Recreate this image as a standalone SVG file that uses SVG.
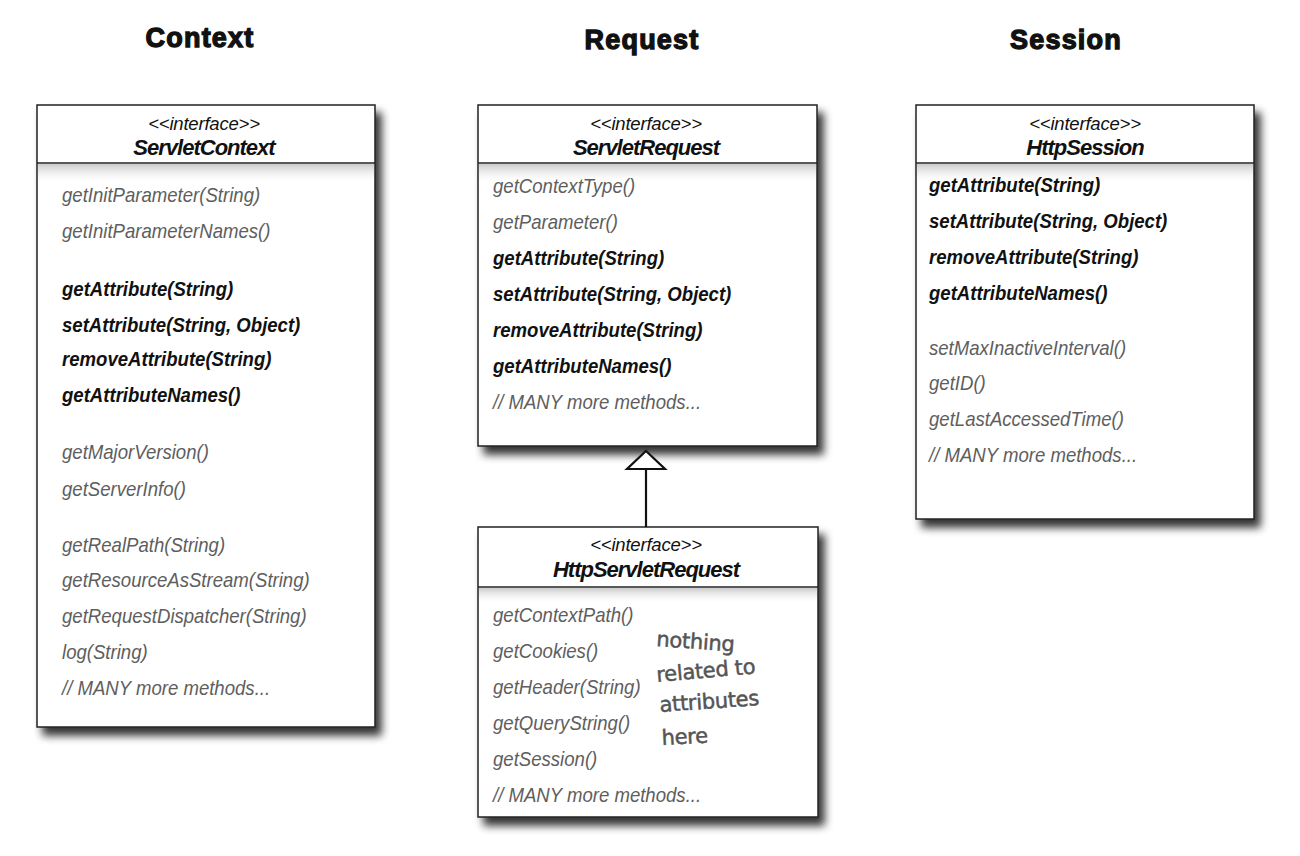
<svg xmlns="http://www.w3.org/2000/svg" width="1300" height="856" viewBox="0 0 1300 856">
  <defs>
    <filter id="drop" x="-10%" y="-10%" width="130%" height="130%">
      <feGaussianBlur in="SourceAlpha" stdDeviation="4.5"/>
      <feOffset dx="6" dy="8" result="b"/>
      <feComponentTransfer><feFuncA type="linear" slope="0.8"/></feComponentTransfer>
      <feMerge><feMergeNode/><feMergeNode in="SourceGraphic"/></feMerge>
    </filter>
    <linearGradient id="hdrShade" x1="0" y1="0" x2="0" y2="1">
      <stop offset="0" stop-color="#c4c4c4" stop-opacity="0.9"/>
      <stop offset="1" stop-color="#ffffff" stop-opacity="0"/>
    </linearGradient>
  </defs>
  <style>
    .title { font-family: "Liberation Sans", Arial, sans-serif; font-weight: bold; font-size: 27px; fill: #111; stroke: #111; stroke-width: 1.3; letter-spacing: 1.2px; text-anchor: middle; }
    .box { fill: #fff; stroke: #222; stroke-width: 1.5; }
    .rule { stroke: #222; stroke-width: 1.5; }
    .stereo { font-family: "Liberation Sans", Arial, sans-serif; font-style: italic; font-size: 18.5px; fill: #111; text-anchor: middle; letter-spacing: -0.2px; }
    .cname { font-family: "Liberation Sans", Arial, sans-serif; font-style: italic; font-weight: bold; font-size: 22px; fill: #111; text-anchor: middle; letter-spacing: -1px; }
    /* method lists are set in a condensed face: the groups are squeezed horizontally */
    .m { font-family: "Liberation Sans", Arial, sans-serif; font-style: italic; font-size: 21px; fill: #5e5e5e; }
    .mb { font-family: "Liberation Sans", Arial, sans-serif; font-style: italic; font-weight: bold; font-size: 21px; fill: #111; }
    .note { font-family: "DejaVu Sans", sans-serif; font-size: 21px; fill: #555; stroke: #555; stroke-width: 0.5; letter-spacing: -0.3px; }
    .link { stroke: #111; stroke-width: 2.2; fill: none; }
    .head { fill: #fff; stroke: #111; stroke-width: 2.2; stroke-linejoin: miter; }
  </style>

  <rect width="1300" height="856" fill="#fff"/>

  <!-- column headings -->
  <text class="title" x="200" y="47">Context</text>
  <text class="title" x="642" y="49">Request</text>
  <text class="title" x="1066" y="49">Session</text>

  <!-- ServletContext -->
  <g id="servlet-context">
    <rect class="box" x="37" y="105" width="338" height="622" filter="url(#drop)"/>
    <rect x="38" y="164" width="336" height="20" fill="url(#hdrShade)"/>
    <line class="rule" x1="37" y1="163" x2="375" y2="163"/>
    <text class="stereo" x="204" y="130">&lt;&lt;interface&gt;&gt;</text>
    <text class="cname" x="204" y="155">ServletContext</text>
    <g transform="translate(62 0) scale(0.885 1)">
      <text class="m" x="0" y="202">getInitParameter(String)</text>
      <text class="m" x="0" y="238">getInitParameterNames()</text>
      <text class="mb" x="0" y="296">getAttribute(String)</text>
      <text class="mb" x="0" y="332">setAttribute(String, Object)</text>
      <text class="mb" x="0" y="366">removeAttribute(String)</text>
      <text class="mb" x="0" y="402">getAttributeNames()</text>
      <text class="m" x="0" y="459">getMajorVersion()</text>
      <text class="m" x="0" y="496">getServerInfo()</text>
      <text class="m" x="0" y="552">getRealPath(String)</text>
      <text class="m" x="0" y="587">getResourceAsStream(String)</text>
      <text class="m" x="0" y="623">getRequestDispatcher(String)</text>
      <text class="m" x="0" y="659">log(String)</text>
      <text class="m" x="0" y="695">// MANY more methods...</text>
    </g>
  </g>

  <!-- ServletRequest -->
  <g id="servlet-request">
    <rect class="box" x="478" y="105" width="339" height="341" filter="url(#drop)"/>
    <rect x="479" y="164" width="337" height="20" fill="url(#hdrShade)"/>
    <line class="rule" x1="478" y1="163" x2="817" y2="163"/>
    <text class="stereo" x="646" y="130">&lt;&lt;interface&gt;&gt;</text>
    <text class="cname" x="646" y="155">ServletRequest</text>
    <g transform="translate(493 0) scale(0.885 1)">
      <text class="m" x="0" y="193">getContextType()</text>
      <text class="m" x="0" y="229">getParameter()</text>
      <text class="mb" x="0" y="265">getAttribute(String)</text>
      <text class="mb" x="0" y="301">setAttribute(String, Object)</text>
      <text class="mb" x="0" y="337">removeAttribute(String)</text>
      <text class="mb" x="0" y="373">getAttributeNames()</text>
      <text class="m" x="0" y="409">// MANY more methods...</text>
    </g>
  </g>

  <!-- HttpServletRequest -->
  <g id="http-servlet-request">
    <rect class="box" x="478" y="527" width="340" height="290" filter="url(#drop)"/>
    <rect x="479" y="588" width="338" height="16" fill="url(#hdrShade)"/>
    <line class="rule" x1="478" y1="587" x2="818" y2="587"/>
    <text class="stereo" x="646" y="551">&lt;&lt;interface&gt;&gt;</text>
    <text class="cname" x="646" y="577">HttpServletRequest</text>
    <g transform="translate(493 0) scale(0.885 1)">
      <text class="m" x="0" y="622">getContextPath()</text>
      <text class="m" x="0" y="658">getCookies()</text>
      <text class="m" x="0" y="694">getHeader(String)</text>
      <text class="m" x="0" y="730">getQueryString()</text>
      <text class="m" x="0" y="766">getSession()</text>
      <text class="m" x="0" y="802">// MANY more methods...</text>
    </g>
  </g>

  <!-- handwritten aside -->
  <g id="note">
    <text class="note" transform="translate(656 646) rotate(4)">nothing</text>
    <text class="note" transform="translate(657 682) rotate(-5)">related to</text>
    <text class="note" transform="translate(660 712) rotate(-4)">attributes</text>
    <text class="note" transform="translate(662 745) rotate(-3)">here</text>
  </g>

  <!-- HttpSession -->
  <g id="http-session">
    <rect class="box" x="916" y="105" width="338" height="414" filter="url(#drop)"/>
    <rect x="917" y="164" width="336" height="20" fill="url(#hdrShade)"/>
    <line class="rule" x1="916" y1="163" x2="1254" y2="163"/>
    <text class="stereo" x="1085" y="130">&lt;&lt;interface&gt;&gt;</text>
    <text class="cname" x="1085" y="155">HttpSession</text>
    <g transform="translate(929 0) scale(0.885 1)">
      <text class="mb" x="0" y="192">getAttribute(String)</text>
      <text class="mb" x="0" y="228">setAttribute(String, Object)</text>
      <text class="mb" x="0" y="264">removeAttribute(String)</text>
      <text class="mb" x="0" y="300">getAttributeNames()</text>
      <text class="m" x="0" y="355">setMaxInactiveInterval()</text>
      <text class="m" x="0" y="390">getID()</text>
      <text class="m" x="0" y="426">getLastAccessedTime()</text>
      <text class="m" x="0" y="462">// MANY more methods...</text>
    </g>
  </g>

  <!-- generalization: HttpServletRequest extends ServletRequest -->
  <g id="connectors">
    <line class="link" x1="646" y1="527" x2="646" y2="469"/>
    <polygon class="head" points="646,451 665,469 627,469"/>
  </g>
</svg>
